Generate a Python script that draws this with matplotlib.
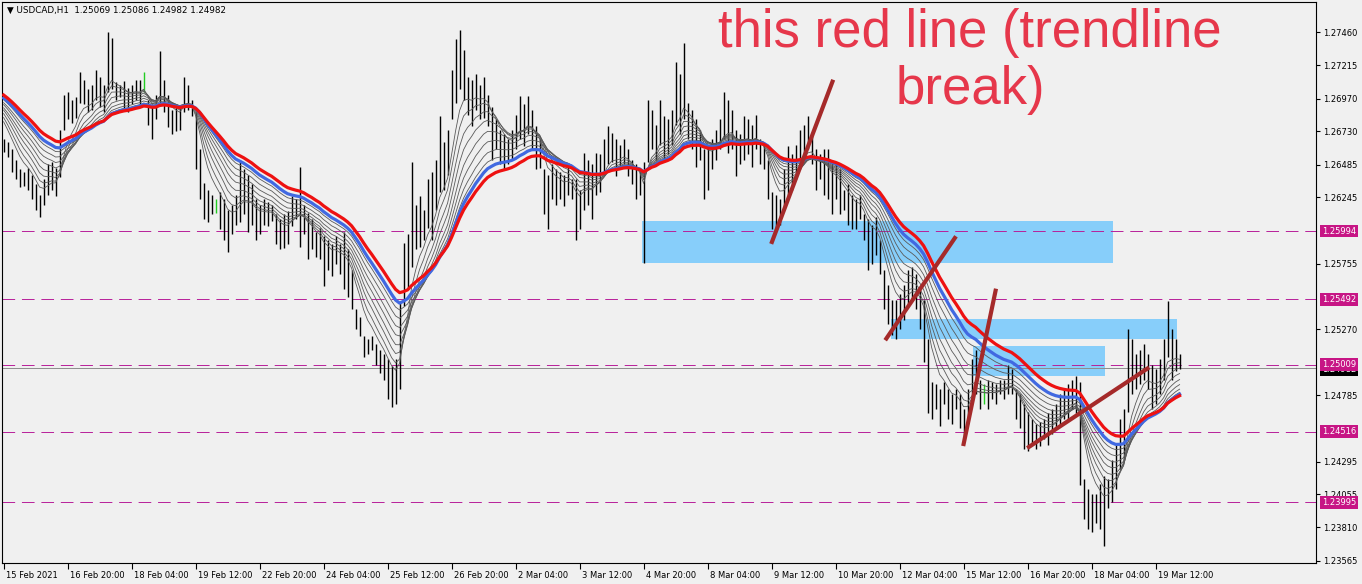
import numpy as np
import matplotlib
matplotlib.use("Agg")
import matplotlib.pyplot as plt
import matplotlib.transforms as mtransforms
from matplotlib.patches import Rectangle

W, H, DPI = 1362, 584, 100
BG = "#F0F0F0"

# USDCAD H1, one entry per 2 hours, prices in 0.0001 units
HIGH = [12667, 12665, 12660, 12652, 12645, 12643, 12646, 12641, 12634, 12626,
        12638, 12649, 12650, 12646, 12674, 12700, 12702, 12696, 12698, 12717,
        12711, 12704, 12707, 12718, 12713, 12707, 12746, 12742, 12709, 12707,
        12710, 12705, 12707, 12711, 12711, 12717, 12696, 12693, 12700, 12732,
        12711, 12700, 12689, 12693, 12691, 12713, 12707, 12696, 12687, 12660,
        12635, 12630, 12626, 12623, 12628, 12623, 12615, 12619, 12626, 12652,
        12645, 12641, 12634, 12623, 12619, 12623, 12621, 12619, 12612, 12608,
        12612, 12614, 12625, 12623, 12647, 12619, 12613, 12608, 12599, 12602,
        12596, 12593, 12590, 12596, 12590, 12599, 12586, 12571, 12542, 12536,
        12522, 12520, 12522, 12516, 12512, 12509, 12505, 12500, 12505, 12547,
        12591, 12597, 12650, 12619, 12625, 12615, 12638, 12643, 12652, 12684,
        12665, 12674, 12718, 12741, 12748, 12733, 12713, 12711, 12715, 12707,
        12713, 12700, 12691, 12682, 12674, 12671, 12667, 12674, 12685, 12699,
        12693, 12699, 12689, 12677, 12667, 12645, 12641, 12649, 12645, 12643,
        12641, 12649, 12638, 12638, 12630, 12657, 12652, 12649, 12657, 12656,
        12667, 12677, 12672, 12667, 12663, 12667, 12660, 12652, 12649, 12645,
        12650, 12696, 12689, 12678, 12696, 12684, 12682, 12689, 12724, 12715,
        12738, 12694, 12689, 12682, 12674, 12660, 12662, 12667, 12674, 12682,
        12702, 12696, 12689, 12674, 12671, 12684, 12682, 12678, 12685, 12667,
        12665, 12652, 12628, 12626, 12623, 12645, 12662, 12656, 12663, 12674,
        12678, 12684, 12671, 12660, 12656, 12660, 12660, 12652, 12649, 12645,
        12630, 12634, 12626, 12623, 12626, 12612, 12608, 12604, 12610, 12593,
        12571, 12560, 12549, 12549, 12553, 12560, 12571, 12573, 12568, 12557,
        12549, 12520, 12488, 12487, 12483, 12488, 12483, 12479, 12483, 12479,
        12468, 12483, 12505, 12512, 12490, 12487, 12490, 12488, 12487, 12490,
        12490, 12501, 12498, 12483, 12479, 12472, 12466, 12461, 12457, 12459,
        12461, 12465, 12468, 12472, 12479, 12483, 12487, 12490, 12493, 12488,
        12417, 12409, 12406, 12406, 12413, 12419, 12417, 12431, 12442, 12461,
        12468, 12527, 12520, 12509, 12512, 12516, 12509, 12501, 12498, 12505,
        12520, 12548, 12527, 12520, 12509]
LOW = [12658, 12654, 12643, 12638, 12632, 12633, 12630, 12623, 12615, 12610,
       12619, 12626, 12630, 12625, 12639, 12674, 12682, 12679, 12683, 12694,
       12693, 12687, 12689, 12696, 12691, 12687, 12702, 12704, 12696, 12698,
       12689, 12687, 12693, 12696, 12691, 12702, 12678, 12667, 12682, 12694,
       12687, 12676, 12671, 12673, 12674, 12687, 12689, 12684, 12645, 12623,
       12608, 12606, 12612, 12613, 12601, 12593, 12584, 12597, 12604, 12606,
       12612, 12599, 12604, 12593, 12597, 12604, 12603, 12607, 12590, 12586,
       12587, 12590, 12603, 12608, 12588, 12597, 12579, 12586, 12580, 12579,
       12559, 12571, 12566, 12575, 12568, 12557, 12551, 12542, 12527, 12522,
       12507, 12509, 12512, 12501, 12495, 12490, 12476, 12470, 12472, 12483,
       12544, 12557, 12573, 12586, 12588, 12593, 12602, 12593, 12615, 12628,
       12630, 12641, 12682, 12694, 12704, 12696, 12685, 12677, 12689, 12682,
       12683, 12677, 12652, 12660, 12649, 12645, 12649, 12652, 12660, 12667,
       12662, 12671, 12660, 12645, 12646, 12612, 12601, 12623, 12619, 12623,
       12618, 12626, 12623, 12593, 12601, 12615, 12619, 12608, 12626, 12628,
       12641, 12649, 12650, 12640, 12645, 12649, 12640, 12634, 12623, 12626,
       12576, 12650, 12660, 12652, 12663, 12652, 12656, 12663, 12678, 12671,
       12682, 12667, 12660, 12647, 12652, 12623, 12630, 12645, 12652, 12660,
       12667, 12657, 12660, 12640, 12649, 12652, 12656, 12647, 12660, 12649,
       12645, 12623, 12601, 12601, 12604, 12615, 12623, 12630, 12638, 12645,
       12652, 12660, 12649, 12630, 12638, 12626, 12623, 12612, 12623, 12612,
       12615, 12604, 12601, 12601, 12608, 12593, 12571, 12575, 12582, 12568,
       12542, 12531, 12523, 12520, 12527, 12534, 12546, 12549, 12542, 12527,
       12503, 12465, 12461, 12468, 12456, 12472, 12461, 12457, 12468, 12454,
       12446, 12457, 12476, 12479, 12468, 12472, 12468, 12476, 12472, 12479,
       12476, 12479, 12479, 12461, 12454, 12439, 12437, 12442, 12439, 12441,
       12446, 12442, 12450, 12454, 12457, 12461, 12461, 12468, 12465, 12412,
       12387, 12380, 12378, 12384, 12380, 12367, 12395, 12400, 12409, 12424,
       12431, 12466, 12479, 12483, 12487, 12490, 12483, 12468, 12472, 12479,
       12490, 12507, 12490, 12496, 12498]
GREEN_BARS = [35, 53, 245]

# moving averages (H1 periods) and their values at the first visible bar
RIBBON_PERIODS = [52, 45, 38, 32, 26, 21, 16, 12]
RIBBON_SEEDS = [12699, 12697, 12696, 12694, 12693, 12691, 12689, 12687]
BLUE_PERIOD, BLUE_SEED = 58, 12700
RED_PERIOD, RED_SEED = 68, 12702

LEVELS = [1.25994, 1.25492, 1.25009, 1.24516, 1.23995]
LAST_PRICE = 1.24982
PRICE_TICKS = [1.27460, 1.27215, 1.26970, 1.26730, 1.26485, 1.26245, 1.25755,
               1.25270, 1.24785, 1.24295, 1.24055, 1.23810, 1.23565]
TIME_LABELS = ["15 Feb 2021", "16 Feb 20:00", "18 Feb 04:00", "19 Feb 12:00",
               "22 Feb 20:00", "24 Feb 04:00", "25 Feb 12:00", "26 Feb 20:00",
               "2 Mar 04:00", "3 Mar 12:00", "4 Mar 20:00", "8 Mar 04:00",
               "9 Mar 12:00", "10 Mar 20:00", "12 Mar 04:00", "15 Mar 12:00",
               "16 Mar 20:00", "18 Mar 04:00", "19 Mar 12:00"]
TIME_TICKS = [16 * k for k in range(len(TIME_LABELS))]

# zones (bar from, bar to, price low, price high)
ZONES = [(159.6, 277.4, 1.25760, 1.26070),
         (221.9, 293.4, 1.25200, 1.25345),
         (242.4, 275.4, 1.24925, 1.25146)]
# trendlines (bar0, price0, bar1, price1)
TRENDLINES = [(191.9, 1.25900, 207.4, 1.27110),
              (220.4, 1.25190, 238.1, 1.25956),
              (239.9, 1.24410, 248.1, 1.25570),
              (255.9, 1.24395, 286.4, 1.24990)]


def ema(values, period_h1, seed):
    # H1 period applied on 2-hour steps
    a = 1 - (1 - 2.0 / (period_h1 + 1)) ** 2
    out, v = [], seed
    for p in values:
        v = v + a * (p - v)
        out.append(v)
    return np.array(out)


fig = plt.figure(figsize=(W / DPI, H / DPI), dpi=DPI, facecolor=BG)
ax = fig.add_axes([2 / W, 21 / H, 1314 / W, 561 / H], facecolor=BG)

idx = np.arange(len(HIGH))
hi = np.array(HIGH) / 1e4
lo = np.array(LOW) / 1e4
cols = ["#22CC22" if i in GREEN_BARS else "black" for i in idx]

for x0, x1, p0, p1 in ZONES:
    ax.add_patch(Rectangle((x0, p0), x1 - x0, p1 - p0, fc="#87CEFA", ec="none", zorder=1))

for lv in LEVELS:
    ax.axhline(lv, color="#B8209A", lw=0.7, ls=(0, (13, 7)), zorder=2)
ax.axhline(LAST_PRICE, color="#8C8C8C", lw=0.7, zorder=2)

ax.vlines(idx, lo, hi, colors=cols, lw=1.0, zorder=3)

med = (hi + lo) / 2
for p, s in zip(RIBBON_PERIODS, RIBBON_SEEDS):
    ax.plot(idx, ema(med, p, s / 1e4), color="#5A5A5A", lw=0.6, zorder=4)
ax.plot(idx, ema(med, BLUE_PERIOD, BLUE_SEED / 1e4), color="#4169E1", lw=2.3, zorder=5)
ax.plot(idx, ema(med, RED_PERIOD, RED_SEED / 1e4), color="#EE1111", lw=2.3, zorder=6)

for x0, p0, x1, p1 in TRENDLINES:
    ax.plot([x0, x1], [p0, p1], color="#A52A2A", lw=3, solid_capstyle="butt", zorder=7)

ax.set_xlim(-0.4, 328.1)
ax.set_ylim(1.23548, 1.27683)

ax.yaxis.tick_right()
ax.set_yticks(PRICE_TICKS)
ax.set_yticklabels([f"{v:.5f}" for v in PRICE_TICKS])
ax.tick_params(axis="y", direction="out", length=3, width=0.8, labelsize=6, pad=2)
ax.set_xticks(TIME_TICKS)
ax.set_xticklabels(TIME_LABELS)
ax.tick_params(axis="x", direction="out", length=4, width=0.8, labelsize=6, pad=1.5)
shift = mtransforms.ScaledTranslation(2 / DPI, 0, fig.dpi_scale_trans)
for lab in ax.get_xticklabels():
    lab.set_ha("left")
    lab.set_transform(lab.get_transform() + shift)
for sp in ax.spines.values():
    sp.set_color("black")
    sp.set_linewidth(0.8)

trans = mtransforms.blended_transform_factory(ax.transAxes, ax.transData)
# last price tag sits partly under the 1.25009 level tag, as in the terminal
ax.text(1.0045, LAST_PRICE - 0.00006, f"{LAST_PRICE:.5f}", transform=trans, fontsize=6,
        color="white", va="center", ha="left", clip_on=False, zorder=9,
        bbox=dict(boxstyle="square,pad=0.22", fc="black", ec="none"))
for lv in LEVELS:
    ax.text(1.0045, lv, f"{lv:.5f}", transform=trans, fontsize=6, color="white",
            va="center", ha="left", clip_on=False, zorder=10,
            bbox=dict(boxstyle="square,pad=0.22", fc="#C71585", ec="none"))

fig.text(7 / W, 1 - 10 / H, "\u25bc USDCAD,H1  1.25069 1.25086 1.24982 1.24982",
         fontsize=6.3, va="center", ha="left")
fig.text(970 / W, 1 - 47 / H, "this red line (trendline", family="Liberation Sans",
         fontsize=38, color="#E6374B", ha="center", va="baseline")
fig.text(970 / W, 1 - 104 / H, "break)", family="Liberation Sans",
         fontsize=38, color="#E6374B", ha="center", va="baseline")

fig.savefig("out.png", dpi=DPI, facecolor=BG)
